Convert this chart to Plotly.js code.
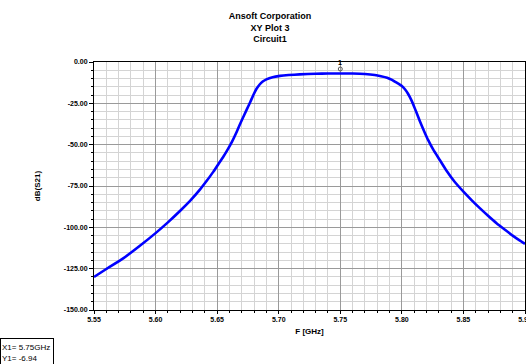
<!DOCTYPE html>
<html>
<head>
<meta charset="utf-8">
<script src="https://cdn.plot.ly/plotly-3.0.1.min.js"></script>
<style>
  html, body { margin: 0; padding: 0; background: #ffffff; }
  #chart { width: 526px; height: 364px; }
</style>
</head>
<body>
<div id="chart"></div>
<script>
// Frequency (GHz) and dB(S21) values
const freqGHz = [5.550, 5.560, 5.574, 5.587, 5.600, 5.610, 5.620, 5.628, 5.636, 5.642, 5.647, 5.651, 5.655, 5.6585, 5.662, 5.666, 5.670, 5.674, 5.677, 5.6795, 5.682, 5.6845, 5.687, 5.690, 5.695, 5.701, 5.708, 5.717, 5.730, 5.740, 5.750, 5.760, 5.770, 5.778, 5.783, 5.788, 5.792, 5.795, 5.798, 5.800, 5.8025, 5.805, 5.808, 5.8106, 5.8133, 5.816, 5.8187, 5.8214, 5.8254, 5.8308, 5.8363, 5.843, 5.850, 5.857, 5.8633, 5.870, 5.8769, 5.884, 5.890, 5.895, 5.900];
const dbS21 = [-130.0, -125.2, -118.6, -111.3, -103.5, -97.0, -90.0, -84.0, -77.2, -71.4, -66.3, -61.8, -57.3, -53.0, -48.3, -42.0, -35.2, -28.8, -24.0, -19.8, -16.2, -13.6, -11.8, -10.5, -9.2, -8.4, -7.9, -7.5, -7.1, -7.0, -6.94, -7.0, -7.3, -7.9, -8.6, -9.5, -10.8, -12.2, -13.5, -14.5, -16.5, -19.2, -23.5, -28.2, -33.3, -38.3, -42.9, -47.3, -52.9, -59.3, -65.8, -72.6, -78.4, -83.8, -88.4, -93.0, -97.5, -101.6, -105.0, -107.6, -110.0];

const xTickVals = [5.55, 5.60, 5.65, 5.70, 5.75, 5.80, 5.85, 5.90];
const xTickText = ['5.55', '5.60', '5.65', '5.70', '5.75', '5.80', '5.85', '5.90'];
const yTickVals = [0, -25, -50, -75, -100, -125, -150];
const yTickText = ['0.00', '-25.00', '-50.00', '-75.00', '-100.00', '-125.00', '-150.00'];

const markerName = '1';
const markerX = 5.75;
const markerXText = '5.75GHz';
const markerYText = '-6.94';

const titleLines = ['Ansoft Corporation', 'XY Plot 3', 'Circuit1'];
const xTitle = 'F [GHz]';
const yTitle = 'dB(S21)';

const FONT = 'Liberation Sans, Arial, sans-serif';

const trace = {
  x: freqGHz,
  y: dbS21,
  type: 'scatter',
  mode: 'lines',
  line: { color: '#0000ff', width: 2.6, shape: 'spline', smoothing: 0.5 },
  hoverinfo: 'skip',
  showlegend: false
};

const layout = {
  width: 526,
  height: 364,
  paper_bgcolor: '#ffffff',
  plot_bgcolor: '#ffffff',
  margin: { l: 94, r: 1, t: 62, b: 54, pad: 0 },
  font: { family: FONT, size: 8, color: '#000000' },
  title: {
    text: '<b>' + titleLines.join('<br>') + '</b>',
    font: { family: FONT, size: 9, color: '#000000' },
    xref: 'container', x: 270 / 526, xanchor: 'center',
    yref: 'container', y: 1 - 19 / 364, yanchor: 'top'
  },
  xaxis: {
    range: [5.55, 5.90],
    tickvals: xTickVals,
    ticktext: xTickText,
    ticklabeloverflow: 'allow',
    tickfont: { family: FONT, size: 7, color: '#000000', weight: 'bold' },
    ticks: 'outside', ticklen: 3, tickcolor: '#000000',
    showline: true, linecolor: '#000000', linewidth: 1, mirror: true,
    showgrid: true, gridcolor: '#9a9a9a', gridwidth: 1,
    minor: { dtick: 0.01, showgrid: true, gridcolor: '#d4d4d4', gridwidth: 1, ticks: 'outside', ticklen: 2, tickcolor: '#000000' },
    zeroline: false,
    title: { text: '<b>' + xTitle + '</b>', font: { family: FONT, size: 8, color: '#000000' }, standoff: 5 }
  },
  yaxis: {
    range: [-150, 0],
    tickvals: yTickVals,
    ticktext: yTickText,
    ticklabeloverflow: 'allow',
    tickfont: { family: FONT, size: 7, color: '#000000', weight: 'bold' },
    ticks: 'outside', ticklen: 4, tickcolor: '#000000',
    showline: true, linecolor: '#000000', linewidth: 1, mirror: true,
    showgrid: true, gridcolor: '#9a9a9a', gridwidth: 1,
    minor: { dtick: 5, showgrid: true, gridcolor: '#d4d4d4', gridwidth: 1, ticks: 'outside', ticklen: 2, tickcolor: '#000000' },
    zeroline: false,
    title: { text: '<b>' + yTitle + '</b>', font: { family: FONT, size: 8, color: '#000000' }, standoff: 22 }
  },
  shapes: [
    {
      type: 'circle', xref: 'x', xsizemode: 'pixel', xanchor: markerX, x0: -2, x1: 2,
      yref: 'paper', ysizemode: 'pixel', yanchor: 1, y0: -9, y1: -5,
      line: { color: '#555555', width: 1 }
    }
  ],
  annotations: [
    {
      xref: 'x', x: markerX, yref: 'paper', y: 1,
      text: '<b>' + markerName + '</b>', showarrow: false,
      yanchor: 'middle', xanchor: 'center', yshift: 0,
      font: { family: FONT, size: 7, color: '#000000' }
    },
    {
      xref: 'paper', x: -94 / 431, xanchor: 'left',
      yref: 'paper', y: (310.5 - 339) / 249, yanchor: 'top',
      text: 'X1= ' + markerXText + '<br>Y1= ' + markerYText,
      align: 'left', showarrow: false,
      width: 50, height: 26,
      bordercolor: '#000000', borderwidth: 1, borderpad: 1,
      font: { family: FONT, size: 8, color: '#000000' }
    }
  ]
};

Plotly.newPlot('chart', [trace], layout, { staticPlot: true, displayModeBar: false });
</script>
</body>
</html>
